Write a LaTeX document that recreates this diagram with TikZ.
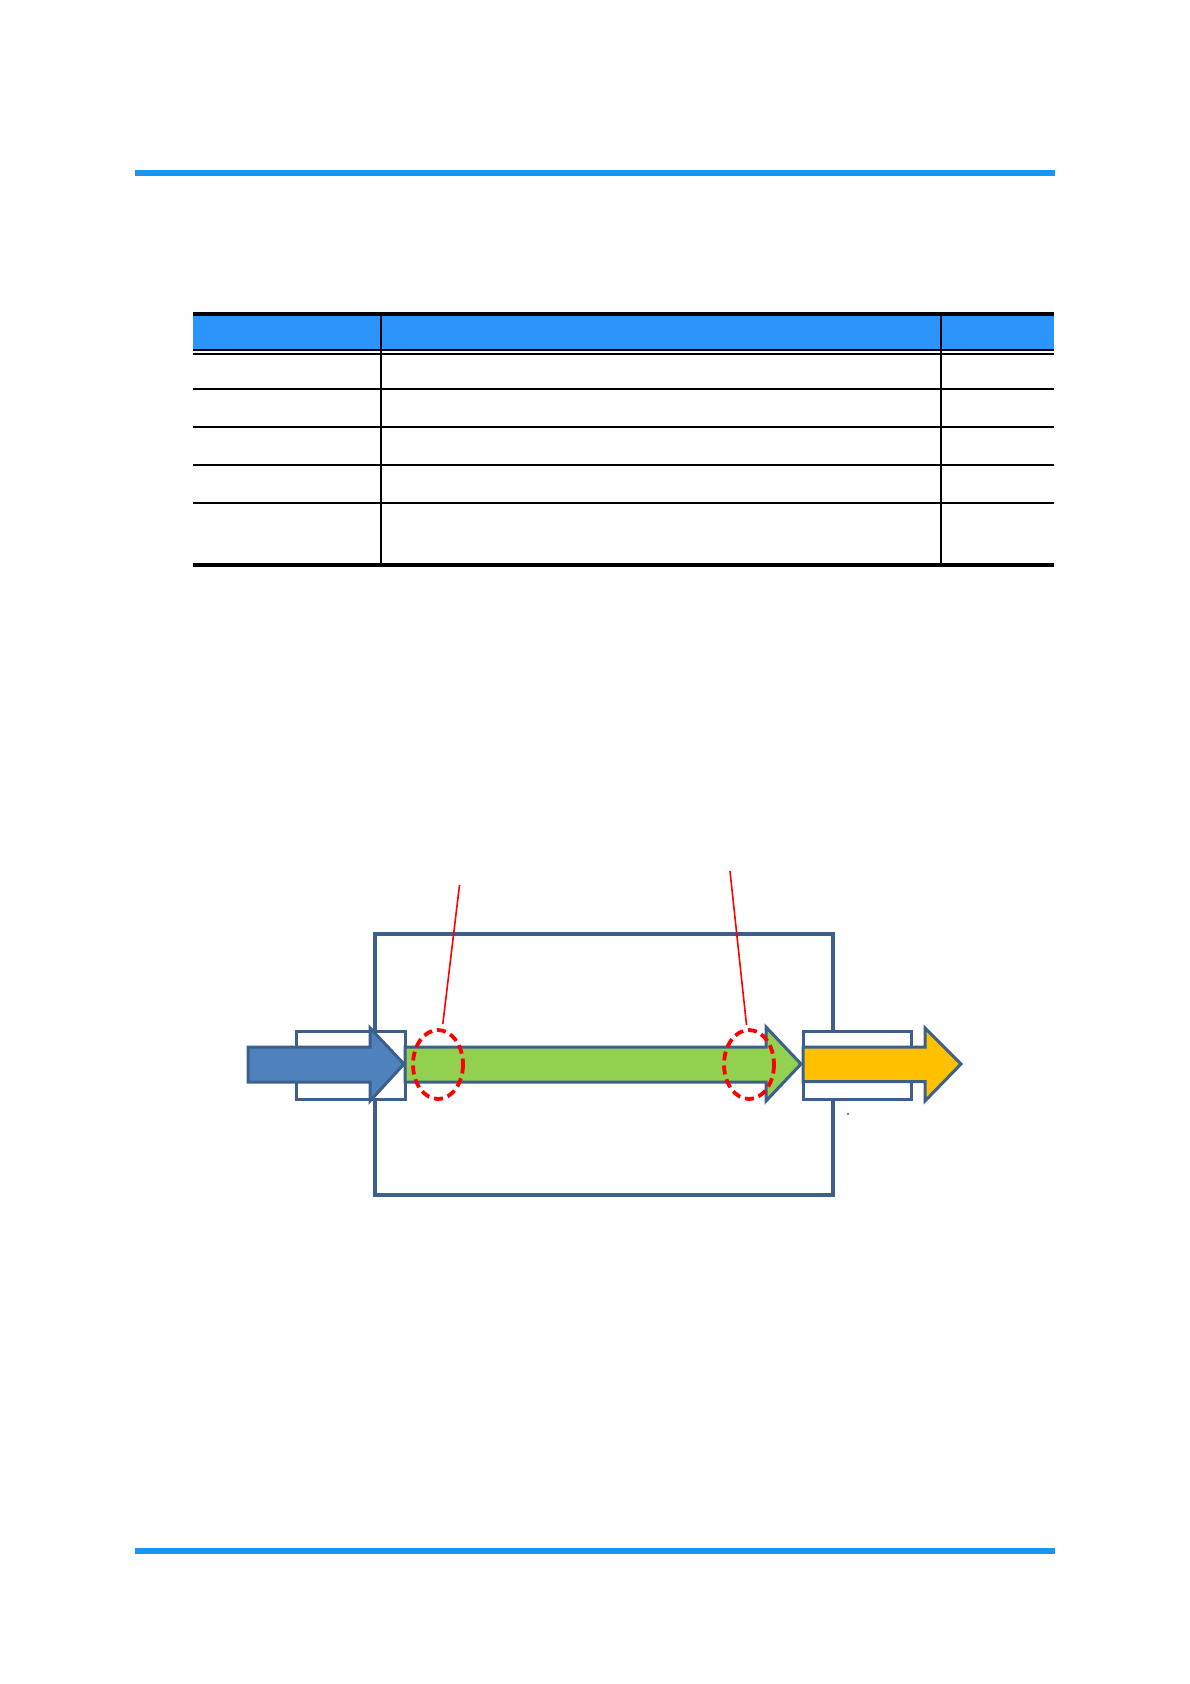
\documentclass[tikz,border=0pt]{standalone}
\usepackage{xcolor}
\definecolor{barblue}{HTML}{1895F0}
\definecolor{headblue}{HTML}{2B95FB}
\definecolor{frame}{HTML}{3D5F8B}
\definecolor{arrblue}{HTML}{4F81BD}
\definecolor{arrgreen}{HTML}{92D050}
\definecolor{arryellow}{HTML}{FFC000}
\tikzset{
  bar/.style={fill=barblue, draw=none},
  tline/.style={draw=black, line width=1.5pt},
  tthick/.style={draw=black, line width=4pt},
  boxline/.style={draw=frame, line width=3.2pt},
  fitting/.style={draw=frame, fill=white, line width=3pt},
  blockarrow/.style={draw=frame, line width=3pt, line join=miter},
  redring/.style={draw=red, line width=3.8pt, dash pattern=on 9pt off 5pt},
  leader/.style={draw=red, line width=1.6pt}
}
\begin{document}
\begin{tikzpicture}[x=1pt,y=-1pt]
\useasboundingbox (0,0) rectangle (1190,1684);
% page rules
\fill[bar] (135,170) rectangle (1055,175.8);
\fill[bar] (135,1548) rectangle (1055,1553.8);
% table
\fill[headblue] (193,315) rectangle (1054,349);
\draw[tthick] (193,314) -- (1054,314);
\draw[draw=black,line width=1.3pt] (193,350) -- (1054,350);
\draw[draw=black,line width=1.3pt] (193,354) -- (1054,354);
\foreach \yy in {389,427,465,503} \draw[tline] (193,\yy) -- (1054,\yy);
\draw[tline] (381,314) -- (381,564);
\draw[tline] (941,314) -- (941,564);
\draw[tthick] (193,564.5) -- (1054,564.5);
% diagram
\draw[boxline] (375,934) rectangle (833,1195);
\draw[fitting] (296,1031) rectangle (405,1099);
\draw[fitting] (803,1031) rectangle (911.5,1099);
\draw[blockarrow, fill=arrblue] (248,1047) -- (370,1047) -- (370,1028) -- (404,1064) -- (370,1101) -- (370,1082) -- (248,1082) -- cycle;
\draw[blockarrow, fill=arrgreen] (405,1047) -- (766,1047) -- (766,1027) -- (801,1064) -- (766,1101) -- (766,1082) -- (405,1082) -- cycle;
\draw[blockarrow, fill=arryellow] (803,1047) -- (925,1047) -- (925,1028) -- (961,1064) -- (925,1101) -- (925,1081.5) -- (803,1081.5) -- cycle;
\draw[redring] (438,1064.5) ellipse [x radius=25, y radius=34.5];
\draw[redring] (749,1064.5) ellipse [x radius=25, y radius=34.5];
\coordinate (la) at (442.8,1024);
\coordinate (lb) at (459.5,885);
\coordinate (ra) at (746.5,1025);
\coordinate (rb) at (730,871);
\draw[leader] (la) -- (lb);
\draw[leader] (ra) -- (rb);
\fill[black] (848,1114) circle (0.8);
\end{tikzpicture}
\end{document}
